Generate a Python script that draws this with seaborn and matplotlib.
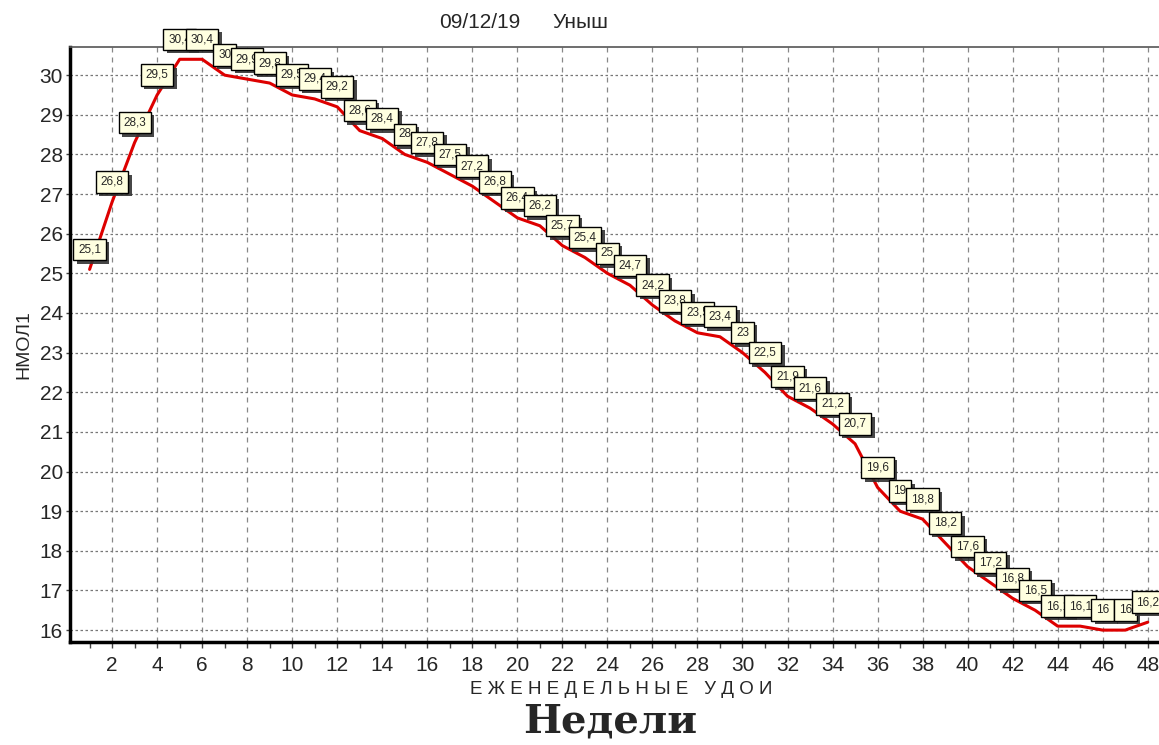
import matplotlib
matplotlib.use("Agg")
import matplotlib.pyplot as plt
import matplotlib.patheffects as pe
from matplotlib.ticker import MultipleLocator
import seaborn as sns
import pandas as pd

weeks = list(range(1, 49))
values = [25.1, 26.8, 28.3, 29.5, 30.4, 30.4, 30.0, 29.9, 29.8, 29.5,
          29.4, 29.2, 28.6, 28.4, 28.0, 27.8, 27.5, 27.2, 26.8, 26.4,
          26.2, 25.7, 25.4, 25.0, 24.7, 24.2, 23.8, 23.5, 23.4, 23.0,
          22.5, 21.9, 21.6, 21.2, 20.7, 19.6, 19.0, 18.8, 18.2, 17.6,
          17.2, 16.8, 16.5, 16.1, 16.1, 16.0, 16.0, 16.2]
title_date = "09/12/19"
title_name = "Уныш"
y_label = "НМОЛ1"
x_label = "ЕЖЕНЕДЕЛЬНЫЕ УДОИ"
sub_label = "Недели"

df = pd.DataFrame({"week": weeks, "value": values})

sns.set_style("white")
narrow = ["Liberation Sans Narrow", "Liberation Sans", "DejaVu Sans"]
plt.rcParams["font.family"] = narrow

fig = plt.figure(figsize=(11.59, 7.45), dpi=100)
ax = fig.add_axes([70 / 1159, 1 - 642 / 745, 1 - 70 / 1159, (642 - 47) / 745])

sns.lineplot(data=df, x="week", y="value", ax=ax, color="#dd0000", linewidth=2.2)

ax.set_xlim(0.13, 48.5)
ax.set_ylim(15.7, 30.71)
ax.xaxis.set_major_locator(MultipleLocator(2))
ax.xaxis.set_minor_locator(MultipleLocator(1))
ax.yaxis.set_major_locator(MultipleLocator(1))

ax.grid(True, which="major", axis="x", color="#888888", linestyle=(0, (4, 4)), linewidth=0.9)
ax.grid(True, which="major", axis="y", color="#777777", linestyle=(0, (2, 2)), linewidth=0.9)
ax.set_axisbelow(True)

for s in ["left", "bottom"]:
    ax.spines[s].set_color("black")
    ax.spines[s].set_linewidth(2.5)
ax.spines["top"].set_color("#555555")
ax.spines["top"].set_linewidth(1.2)
ax.spines["right"].set_visible(False)

ax.tick_params(axis="x", which="major", labelsize=15, length=4, width=1, color="#444444",
               direction="out", bottom=True, pad=6)
ax.tick_params(axis="y", which="major", labelsize=15, length=3, width=1, color="#444444",
               direction="out", left=True, pad=2)
ax.tick_params(axis="x", which="minor", length=4, width=1, color="#444444", bottom=True)

ax.set_xlabel("")
ax.set_ylabel("")

for x, v in zip(weeks, values):
    txt = ("%g" % v).replace(".", ",")
    t = ax.annotate(txt, (x, v), xytext=(0, 14), textcoords="offset pixels",
                    ha="center", va="bottom", fontsize=8.5, family=narrow,
                    bbox=dict(boxstyle="square,pad=0.4", fc="#ffffe0", ec="black", lw=1))
    t.get_bbox_patch().set_path_effects([
        pe.SimplePatchShadow(offset=(2.5, -2.5), shadow_rgbFace="#333333", alpha=0.9),
        pe.Normal()])

fig.text(480 / 1159, 1 - 22 / 745, title_date, ha="center", va="center", fontsize=15, family=narrow)
fig.text(580 / 1159, 1 - 22 / 745, title_name, ha="center", va="center", fontsize=15, family=narrow)
fig.text(24 / 1159, 1 - 345 / 745, y_label, ha="center", va="center", rotation=90,
         fontsize=14, family=["Liberation Sans", "DejaVu Sans"])
fig.text(621 / 1159, 1 - 690 / 745, " ".join(x_label), ha="center", va="center",
         fontsize=13.5, family=narrow)
fig.text(610 / 1159, 1 - 722 / 745, sub_label, ha="center", va="center",
         fontsize=29, fontweight="bold", family=["DejaVu Serif"])

fig.savefig("out.png", dpi=100)
